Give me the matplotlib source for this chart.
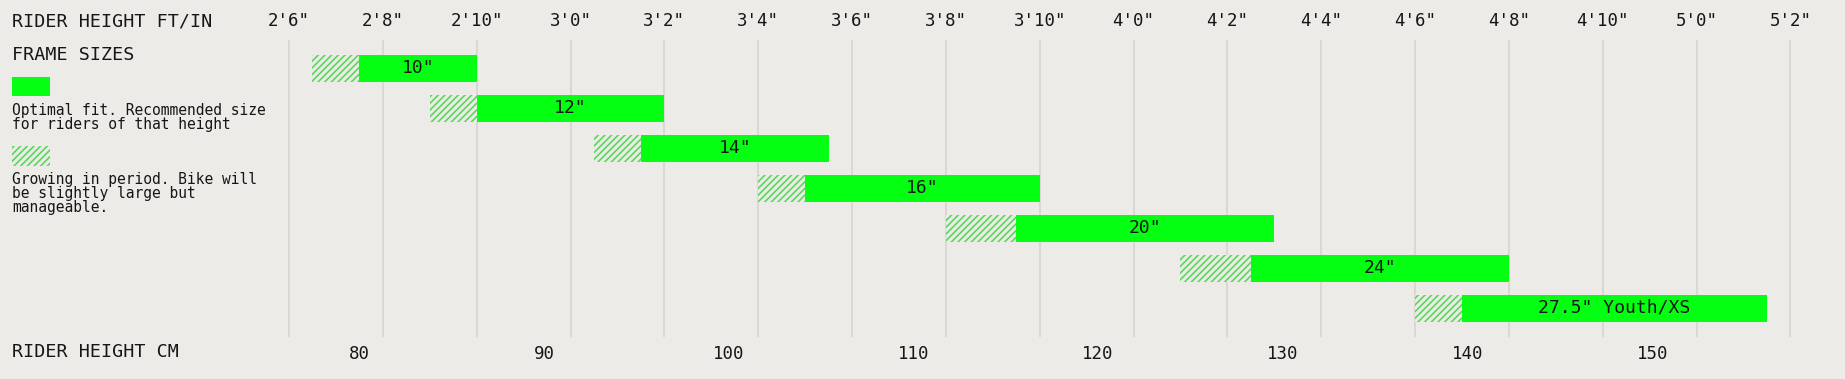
import matplotlib
matplotlib.use("Agg")
import matplotlib.pyplot as plt
from matplotlib.patches import Rectangle

# ---------------- data ----------------
frame_sizes = ['10"', '12"', '14"', '16"', '20"', '24"', '27.5" Youth/XS']
growing_start_in = [30.5, 33.0, 36.5, 40.0, 44.0, 49.0, 54.0]
optimal_start_in = [31.5, 34.0, 37.5, 41.0, 45.5, 50.5, 55.0]
optimal_end_in = [34.0, 38.0, 41.5, 46.0, 51.0, 56.0, 61.5]

ftin_ticks_in = [30, 32, 34, 36, 38, 40, 42, 44, 46, 48, 50, 52, 54, 56, 58, 60, 62]
ftin_labels = ['2\'6"', '2\'8"', '2\'10"', '3\'0"', '3\'2"', '3\'4"', '3\'6"', '3\'8"',
               '3\'10"', '4\'0"', '4\'2"', '4\'4"', '4\'6"', '4\'8"', '4\'10"', '5\'0"', '5\'2"']
cm_ticks = [80, 90, 100, 110, 120, 130, 140, 150]

# ---------------- style ----------------
BG = '#ecebe7'
GREEN = '#05ff12'
HATCH = '#5ad85a'
GRID = '#d6d5d0'
TXT = '#161616'
FONT = ['DejaVu Sans Mono', 'Liberation Mono']
plt.rcParams['font.family'] = FONT
plt.rcParams['hatch.linewidth'] = 1.2

W, H = 1845, 379
fig = plt.figure(figsize=(W / 100, H / 100), dpi=100, facecolor=BG)

x_lo, x_hi = 29.6, 62.4
px_per_in = 46.92
left_px = 289 + (x_lo - 30) * px_per_in
right_px = 289 + (x_hi - 30) * px_per_in
top_px, bot_px = 40, 337
ax = fig.add_axes([left_px / W, 1 - bot_px / H, (right_px - left_px) / W, (bot_px - top_px) / H])
ax.set_facecolor(BG)
ax.set_xlim(x_lo, x_hi)
ax.set_ylim(len(frame_sizes) - 1 + 0.725, -0.7)
for s in ax.spines.values():
    s.set_visible(False)

# top ft/in axis
ax.xaxis.tick_top()
ax.set_xticks(ftin_ticks_in)
ax.set_xticklabels(ftin_labels)
ax.tick_params(axis='x', length=0, pad=7, labelsize=12.5, labelcolor=TXT)
ax.set_yticks([])
ax.grid(axis='x', color=GRID, linewidth=1.2, zorder=0)
ax.set_axisbelow(True)

# bottom cm axis
sec = ax.secondary_xaxis('bottom', functions=(lambda x: x * 2.54, lambda c: c / 2.54))
sec.set_xticks(cm_ticks)
sec.tick_params(length=0, pad=6, labelsize=12.5, labelcolor=TXT)
sec.spines['bottom'].set_visible(False)

bar_h = 0.675
for i, name in enumerate(frame_sizes):
    g0, o0, o1 = growing_start_in[i], optimal_start_in[i], optimal_end_in[i]
    ax.barh(i, o0 - g0, left=g0, height=bar_h, color=BG, edgecolor=HATCH,
            hatch='/////', linewidth=0, zorder=2)
    ax.barh(i, o1 - o0, left=o0, height=bar_h, color=GREEN, linewidth=0, zorder=3)
    ax.text((o0 + o1) / 2, i, name, ha='center', va='center', fontsize=13,
            color=TXT, zorder=4)

# left side labels / legend
fig.text(12 / W, 1 - 21 / H, 'RIDER HEIGHT FT/IN', ha='left', va='center',
         fontsize=13.2, color=TXT)
fig.text(12 / W, 1 - 55 / H, 'FRAME SIZES', ha='left', va='center',
         fontsize=13.2, color=TXT)
fig.text(12 / W, 1 - 352 / H, 'RIDER HEIGHT CM', ha='left', va='center',
         fontsize=13.2, color=TXT)

fig.patches.append(Rectangle((12 / W, 1 - 96 / H), 38 / W, 19 / H, transform=fig.transFigure,
                             facecolor=GREEN, linewidth=0))
fig.text(12 / W, 1 - 103 / H, 'Optimal fit. Recommended size\nfor riders of that height',
         ha='left', va='top', fontsize=10.5, color=TXT, linespacing=0.92)
fig.patches.append(Rectangle((12 / W, 1 - 166 / H), 38 / W, 20 / H, transform=fig.transFigure,
                             facecolor=BG, edgecolor=HATCH, hatch='/////', linewidth=0))
fig.text(12 / W, 1 - 172 / H, 'Growing in period. Bike will\nbe slightly large but\nmanageable.',
         ha='left', va='top', fontsize=10.5, color=TXT, linespacing=0.92)

fig.savefig('out.png', dpi=100, facecolor=BG)
